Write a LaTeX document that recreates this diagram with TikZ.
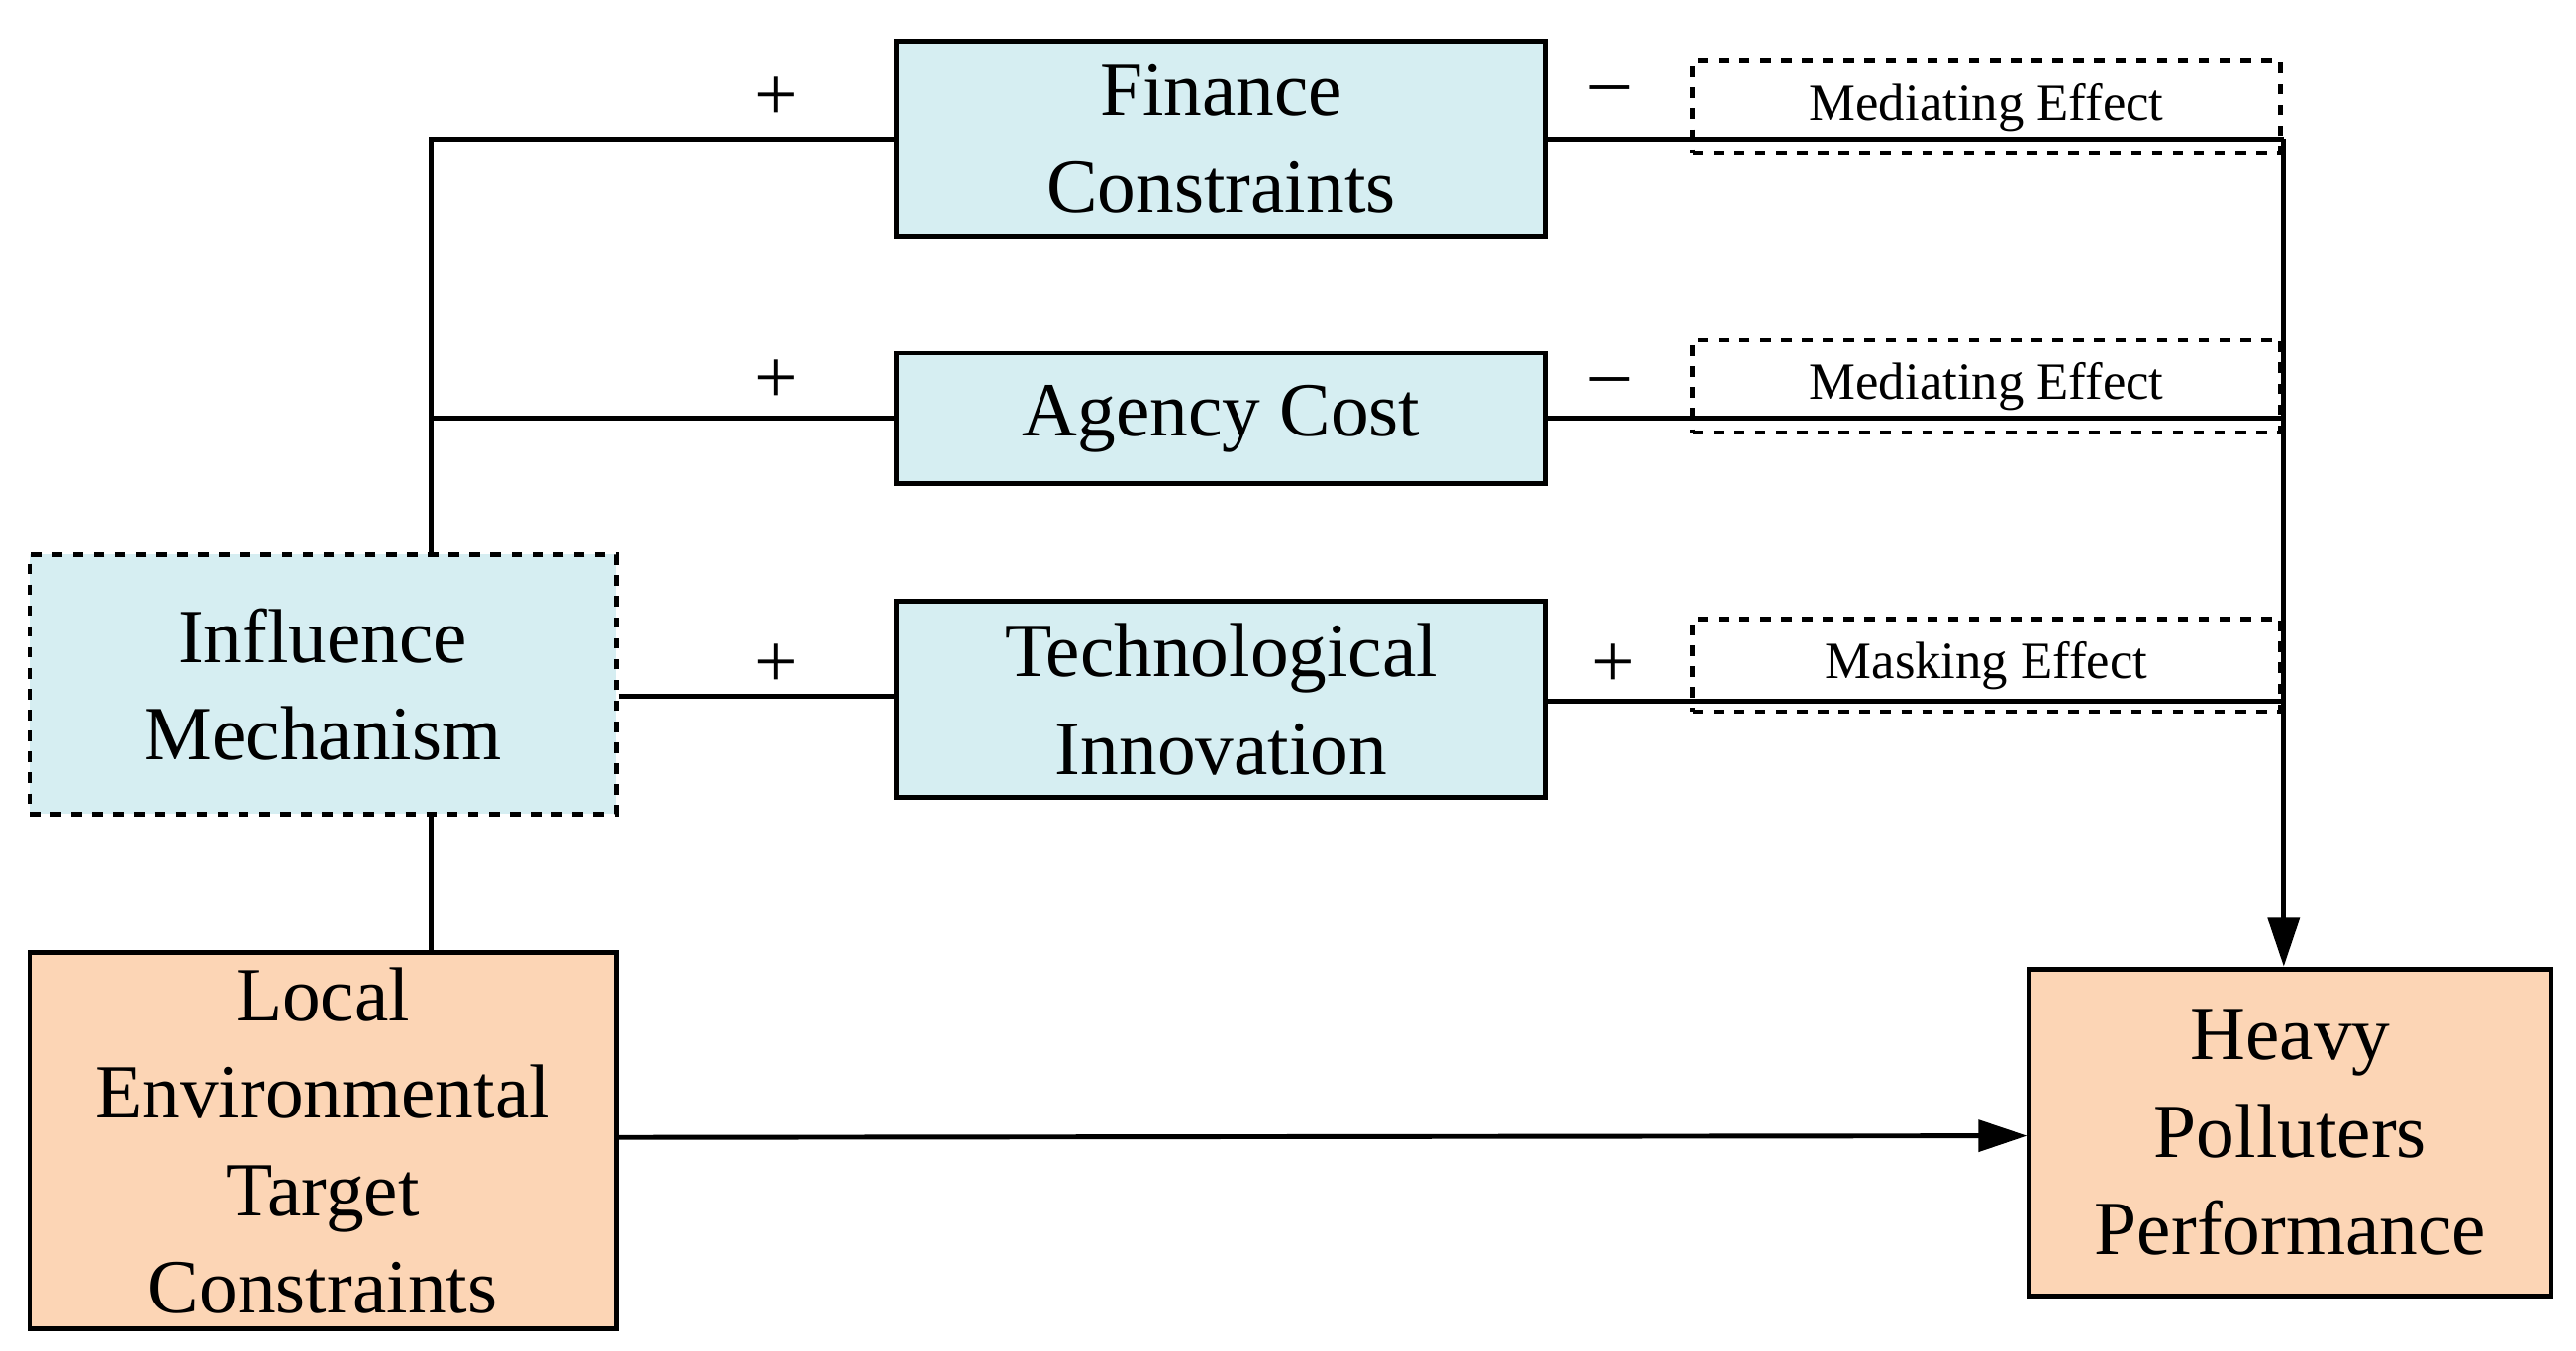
\documentclass[tikz,border=0pt]{standalone}
\usepackage{fontspec}
\setmainfont{Liberation Serif}
\usetikzlibrary{arrows.meta}
\definecolor{lb}{HTML}{D6EEF2}
\definecolor{lo}{HTML}{FCD5B5}
\tikzset{
  bx/.style={draw, line width=1.4pt, fill=lb, align=center, font=\fontsize{22}{28}\selectfont, inner sep=0pt},
  ob/.style={bx, fill=lo},
  eb/.style={draw, dashed, line width=1.3pt, font=\fontsize{15}{18}\selectfont, inner sep=0pt},
  ln/.style={line width=1.4pt},
  sg/.style={font=\fontsize{22}{24}\selectfont}
}
\begin{document}
\begin{tikzpicture}[x=0.01668cm,y=-0.01668cm]
\useasboundingbox (0,0) rectangle (1560,818);
\node[bx, minimum width=393*0.01668cm, minimum height=118*0.01668cm] (fin) at (739.5,84) {Finance\\Constraints};
\node[bx, minimum width=393*0.01668cm, minimum height=79*0.01668cm] (age) at (739.5,253.5) {Agency Cost};
\node[bx, minimum width=393*0.01668cm, minimum height=119*0.01668cm] (tec) at (739.5,423.5) {Technological\\Innovation};
\node[bx, dashed, minimum width=355*0.01668cm, minimum height=157*0.01668cm] (inf) at (195.5,414.5) {Influence\\Mechanism};
\node[ob, minimum width=355*0.01668cm, minimum height=228*0.01668cm] (loc) at (195.5,691) {Local\\Environmental\\Target\\Constraints};
\node[ob, minimum width=316*0.01668cm, minimum height=198*0.01668cm] (hvy) at (1387,686) {Heavy\\Polluters\\Performance};
\node[eb, minimum width=356*0.01668cm, minimum height=56*0.01668cm] (e1) at (1203,65) {Mediating Effect};
\node[eb, minimum width=356*0.01668cm, minimum height=56*0.01668cm] (e2) at (1203,234) {Mediating Effect};
\node[eb, minimum width=356*0.01668cm, minimum height=56*0.01668cm] (e3) at (1203,403) {Masking Effect};
\coordinate (v) at (261,84);
\coordinate (r) at (1383,84);
\draw[ln] (inf.north -| v) -- (v) -- (fin.west |- v);
\draw[ln] (v |- age.west) -- (age.west);
\draw[ln] (inf.east |- 0,422) -- (tec.west |- 0,422);
\draw[ln] (inf.south -| v) -- (loc.north -| v);
\draw[ln] (fin.east |- r) -- (r);
\draw[ln] (age.east) -- (age.east -| r);
\draw[ln] (tec.east |- 0,425) -- (r |- 0,425);
\draw[ln, -{Triangle[length=14pt,width=9pt]}] (r) -- (r |- hvy.north);
\draw[ln, -{Triangle[length=14pt,width=9pt]}] (loc.east |- 0,689) -- (hvy.west |- 0,688);
\node[sg] (p1) at (470,60) {+};
\node[sg] (p2) at (470,231) {+};
\node[sg] (p3) at (470,403) {+};
\node[sg] (m1) at (975,58) {--};
\node[sg] (m2) at (975,235) {--};
\node[sg] (p4) at (977,403) {+};
\end{tikzpicture}
\end{document}
